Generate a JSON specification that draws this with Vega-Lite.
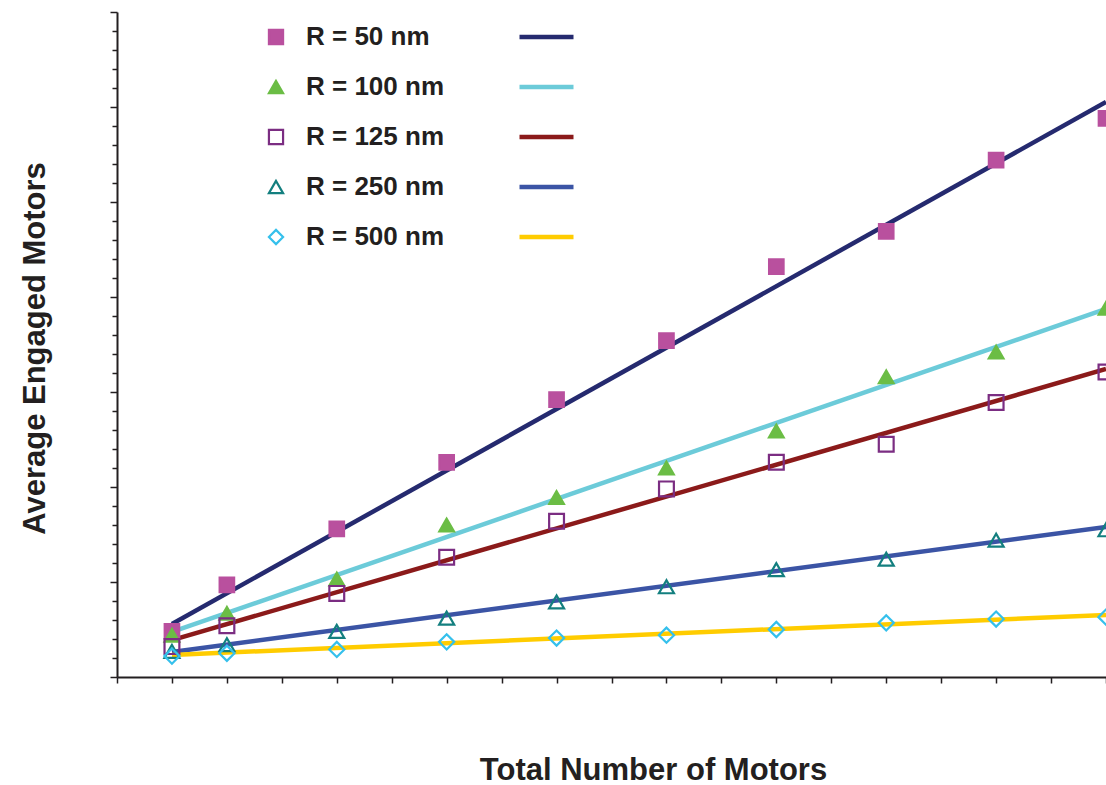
{
  "$schema": "https://vega.github.io/schema/vega-lite/v6.json",
  "width": 989,
  "height": 665,
  "autosize": "none",
  "padding": {"left": 117, "top": 12, "right": 0, "bottom": 108},
  "background": "white",
  "config": {
    "view": {"stroke": null},
    "font": "Liberation Sans"
  },
  "resolve": {"legend": {"color": "independent", "shape": "independent", "fill": "independent", "stroke": "independent"}},
  "datasets": {
    "pts": [
      {"series": "R = 50 nm", "x": 1, "y": 0.48}, {"series": "R = 50 nm", "x": 2, "y": 0.97}, {"series": "R = 50 nm", "x": 4, "y": 1.56}, {"series": "R = 50 nm", "x": 6, "y": 2.26}, {"series": "R = 50 nm", "x": 8, "y": 2.92}, {"series": "R = 50 nm", "x": 10, "y": 3.54}, {"series": "R = 50 nm", "x": 12, "y": 4.32}, {"series": "R = 50 nm", "x": 14, "y": 4.69}, {"series": "R = 50 nm", "x": 16, "y": 5.44}, {"series": "R = 50 nm", "x": 18, "y": 5.88},
      {"series": "R = 100 nm", "x": 1, "y": 0.44}, {"series": "R = 100 nm", "x": 2, "y": 0.67}, {"series": "R = 100 nm", "x": 4, "y": 1.03}, {"series": "R = 100 nm", "x": 6, "y": 1.6}, {"series": "R = 100 nm", "x": 8, "y": 1.89}, {"series": "R = 100 nm", "x": 10, "y": 2.2}, {"series": "R = 100 nm", "x": 12, "y": 2.59}, {"series": "R = 100 nm", "x": 14, "y": 3.16}, {"series": "R = 100 nm", "x": 16, "y": 3.42}, {"series": "R = 100 nm", "x": 18, "y": 3.88},
      {"series": "R = 125 nm", "x": 1, "y": 0.32}, {"series": "R = 125 nm", "x": 2, "y": 0.54}, {"series": "R = 125 nm", "x": 4, "y": 0.88}, {"series": "R = 125 nm", "x": 6, "y": 1.26}, {"series": "R = 125 nm", "x": 8, "y": 1.64}, {"series": "R = 125 nm", "x": 10, "y": 1.98}, {"series": "R = 125 nm", "x": 12, "y": 2.26}, {"series": "R = 125 nm", "x": 14, "y": 2.45}, {"series": "R = 125 nm", "x": 16, "y": 2.89}, {"series": "R = 125 nm", "x": 18, "y": 3.21},
      {"series": "R = 250 nm", "x": 1, "y": 0.27}, {"series": "R = 250 nm", "x": 2, "y": 0.34}, {"series": "R = 250 nm", "x": 4, "y": 0.48}, {"series": "R = 250 nm", "x": 6, "y": 0.62}, {"series": "R = 250 nm", "x": 8, "y": 0.79}, {"series": "R = 250 nm", "x": 10, "y": 0.95}, {"series": "R = 250 nm", "x": 12, "y": 1.13}, {"series": "R = 250 nm", "x": 14, "y": 1.24}, {"series": "R = 250 nm", "x": 16, "y": 1.44}, {"series": "R = 250 nm", "x": 18, "y": 1.55},
      {"series": "R = 500 nm", "x": 1, "y": 0.22}, {"series": "R = 500 nm", "x": 2, "y": 0.25}, {"series": "R = 500 nm", "x": 4, "y": 0.29}, {"series": "R = 500 nm", "x": 6, "y": 0.37}, {"series": "R = 500 nm", "x": 8, "y": 0.41}, {"series": "R = 500 nm", "x": 10, "y": 0.44}, {"series": "R = 500 nm", "x": 12, "y": 0.5}, {"series": "R = 500 nm", "x": 14, "y": 0.57}, {"series": "R = 500 nm", "x": 16, "y": 0.61}, {"series": "R = 500 nm", "x": 18, "y": 0.63}
    ],
    "fits": [
      {"fit": "L1", "x": 1, "y": 0.558}, {"fit": "L1", "x": 18, "y": 6.053},
      {"fit": "L2", "x": 1, "y": 0.474}, {"fit": "L2", "x": 18, "y": 3.874},
      {"fit": "L3", "x": 1, "y": 0.389}, {"fit": "L3", "x": 18, "y": 3.242},
      {"fit": "L4", "x": 1, "y": 0.263}, {"fit": "L4", "x": 18, "y": 1.579},
      {"fit": "L5", "x": 1, "y": 0.232}, {"fit": "L5", "x": 18, "y": 0.653}
    ]
  },
  "layer": [
    {
      "data": {"name": "fits"},
      "mark": {"type": "line", "strokeWidth": 4.5, "strokeCap": "butt", "clip": false},
      "encoding": {
        "x": {
          "field": "x", "type": "quantitative",
          "scale": {"domain": [0, 18], "nice": false, "zero": false},
          "axis": {
            "values": [0,1,2,3,4,5,6,7,8,9,10,11,12,13,14,15,16,17,18], "tickCount": 40,
            "labels": false, "grid": false, "tickSize": 6, "tickWidth": 1.5, "tickColor": "#231F20",
            "domainColor": "#231F20", "domainWidth": 2,
            "title": "Total Number of Motors", "titleFont": "Liberation Sans", "titleFontSize": 31, "titleFontWeight": "bold", "titleColor": "#231F20",
            "titleX": 536, "titleY": 93, "titleBaseline": "middle", "titleAnchor": null, "titleAlign": "center"
          }
        },
        "y": {
          "field": "y", "type": "quantitative",
          "scale": {"domain": [0, 7], "nice": false},
          "axis": {
            "values": [0,0.2,0.4,0.6,0.8,1,1.2,1.4,1.6,1.8,2,2.2,2.4,2.6,2.8,3,3.2,3.4,3.6,3.8,4,4.2,4.4,4.6,4.8,5,5.2,5.4,5.6,5.8,6,6.2,6.4,6.6,6.8,7], "tickCount": 60,
            "labels": false, "grid": false,
            "tickSize": {"condition": {"test": "abs(datum.value - round(datum.value)) < 0.001", "value": 7}, "value": 5},
            "tickWidth": 1.5, "tickColor": "#231F20",
            "domainColor": "#231F20", "domainWidth": 2,
            "title": "Average Engaged Motors", "titleFont": "Liberation Sans", "titleFontSize": 31, "titleFontWeight": "bold", "titleColor": "#231F20",
            "titleX": -82, "titleY": 336, "titleBaseline": "middle", "titleAngle": -90, "titleAnchor": null, "titleAlign": "center"
          }
        },
        "color": {
          "field": "fit", "type": "nominal",
          "scale": {"range": ["#252A6F", "#6CCBD9", "#8B1A1A", "#3B54A5", "#FFCC00"]},
          "legend": {
            "orient": "none", "legendX": 400, "legendY": 14, "title": null, "padding": 0,
            "symbolType": "stroke", "symbolSize": 2916, "symbolStrokeWidth": 4.5,
            "labelExpr": "''", "labelFontSize": 22, "clipHeight": 22, "rowPadding": 28
          }
        }
      }
    },
    {
      "data": {"name": "pts"},
      "mark": {"type": "point", "strokeWidth": 2.2, "opacity": 1, "clip": false},
      "encoding": {
        "x": {"field": "x", "type": "quantitative"},
        "y": {"field": "y", "type": "quantitative"},
        "shape": {
          "field": "series", "type": "nominal",
          "scale": {"domain": ["R = 50 nm", "R = 100 nm", "R = 125 nm", "R = 250 nm", "R = 500 nm"], "range": ["square", "triangle-up", "square", "triangle-up", "diamond"]},
          "legend": {
            "orient": "none", "legendX": 146, "legendY": 14, "title": null, "padding": 0,
            "labelFont": "Liberation Sans", "labelFontSize": 26, "labelFontWeight": "bold", "labelColor": "#231F20",
            "labelOffset": 17, "clipHeight": 22, "rowPadding": 24, "labelLimit": 300,
            "symbolSize": 200, "symbolStrokeWidth": 2.2
          }
        },
        "size": {
          "field": "series", "type": "nominal",
          "scale": {"domain": ["R = 50 nm", "R = 100 nm", "R = 125 nm", "R = 250 nm", "R = 500 nm"], "range": [210, 230, 170, 150, 100]},
          "legend": null
        },
        "fill": {
          "field": "series", "type": "nominal",
          "scale": {"domain": ["R = 50 nm", "R = 100 nm", "R = 125 nm", "R = 250 nm", "R = 500 nm"], "range": ["#B9509E", "#6BBD45", "transparent", "transparent", "transparent"]},
          "legend": {
            "orient": "none", "legendX": 146, "legendY": 14, "title": null, "padding": 0,
            "labelFont": "Liberation Sans", "labelFontSize": 26, "labelFontWeight": "bold", "labelColor": "#231F20",
            "labelOffset": 17, "clipHeight": 22, "rowPadding": 24, "labelLimit": 300,
            "symbolSize": 200, "symbolStrokeWidth": 2.2
          }
        },
        "stroke": {
          "field": "series", "type": "nominal",
          "scale": {"domain": ["R = 50 nm", "R = 100 nm", "R = 125 nm", "R = 250 nm", "R = 500 nm"], "range": ["#B9509E", "#6BBD45", "#7B2D82", "#137F7F", "#35C0EC"]},
          "legend": {
            "orient": "none", "legendX": 146, "legendY": 14, "title": null, "padding": 0,
            "labelFont": "Liberation Sans", "labelFontSize": 26, "labelFontWeight": "bold", "labelColor": "#231F20",
            "labelOffset": 17, "clipHeight": 22, "rowPadding": 24, "labelLimit": 300,
            "symbolSize": 200, "symbolStrokeWidth": 2.2
          }
        }
      }
    }
  ]
}
